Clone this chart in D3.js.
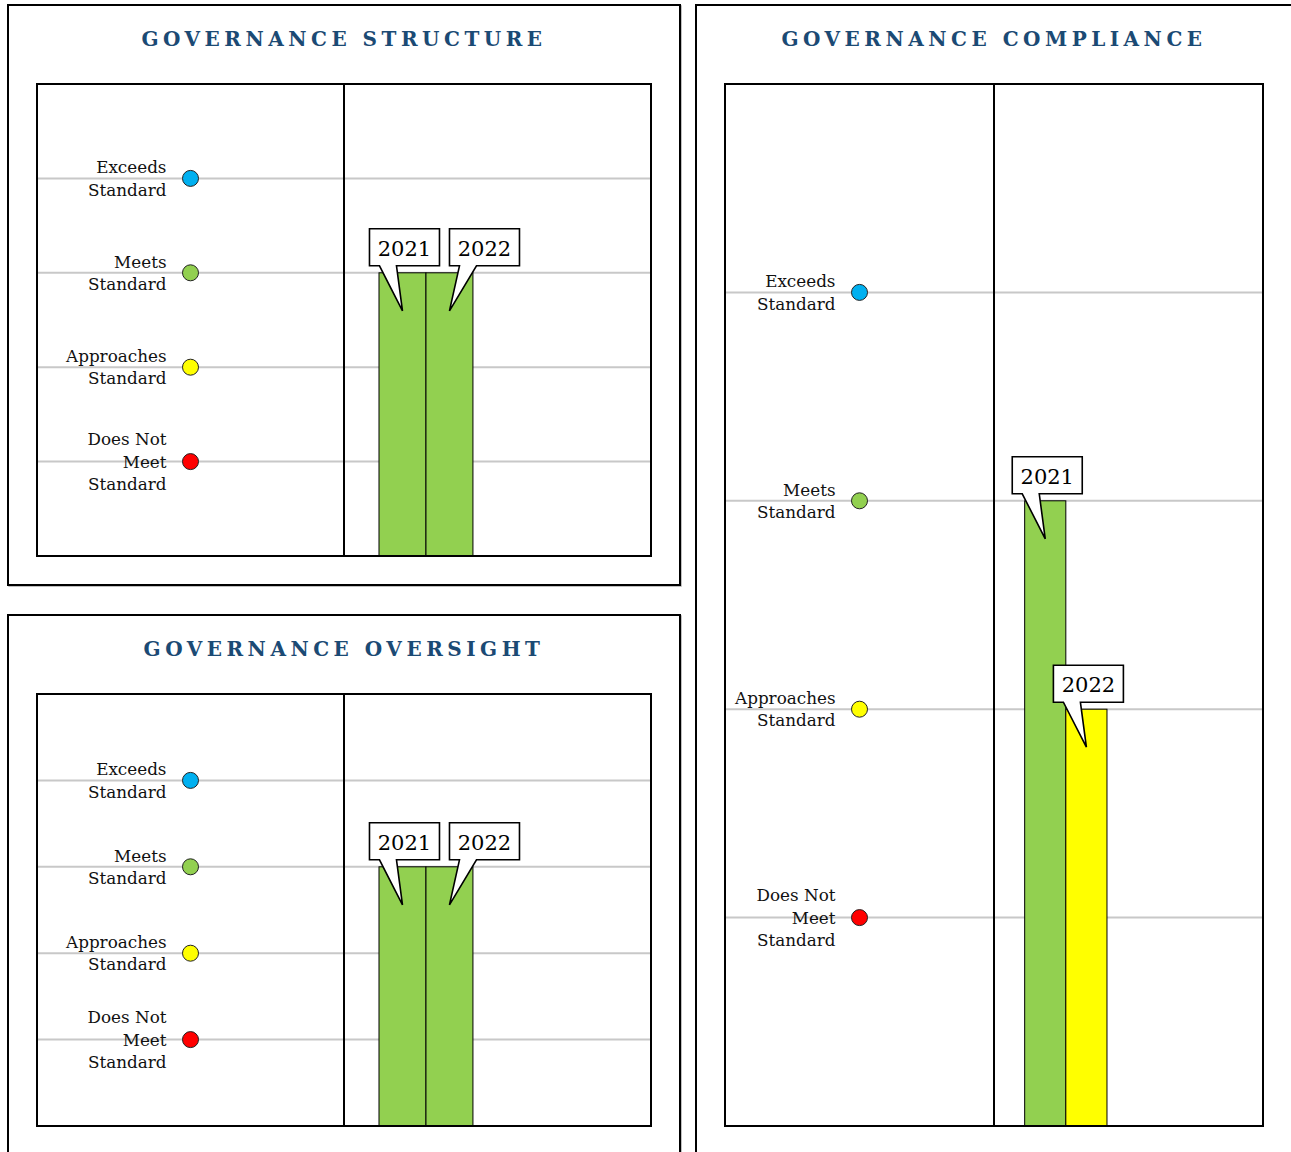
<!DOCTYPE html>
<html>
<head>
<meta charset="utf-8">
<script src="https://cdn.jsdelivr.net/npm/d3@7.9.0/dist/d3.min.js"></script>
<style>
  body { margin: 0; background: #fff; }
</style>
</head>
<body>
<div id="chart"></div>
<script>
// rating scale, bottom to top
const levelNames = ["Does Not Meet Standard", "Approaches Standard", "Meets Standard", "Exceeds Standard"];
const levelLabels = [["Does Not", "Meet", "Standard"], ["Approaches", "Standard"], ["Meets", "Standard"], ["Exceeds", "Standard"]];
const levelValues = [1, 2, 3, 4];
const levelColors = ["#ff0000", "#ffff00", "#92d050", "#00b0f0"];

const years = ["2021", "2022"];
const structureScores = [3, 3];
const oversightScores = [3, 3];
const complianceScores = [3, 2];

const panels = [
  { title: "GOVERNANCE STRUCTURE", scores: structureScores, box: [8, 5, 672, 580], plot: [37, 84, 651, 556] },
  { title: "GOVERNANCE OVERSIGHT", scores: oversightScores, box: [8, 615, 672, 600], plot: [37, 694, 651, 1126] },
  { title: "GOVERNANCE COMPLIANCE", scores: complianceScores, box: [696, 5, 600, 1200], plot: [725, 84, 1263, 1126] }
];

// check which serif face is really there
function hasFont(name) {
  const ctx = document.createElement('canvas').getContext('2d');
  ctx.font = '40px monospace';
  const base = ctx.measureText('Standard Approaches 2021').width;
  ctx.font = `40px "${name}", monospace`;
  return ctx.measureText('Standard Approaches 2021').width !== base;
}
const useDejaVu = hasFont('DejaVu Serif');
const bodyFont = useDejaVu ? '"DejaVu Serif"' : '"Liberation Serif"';
const fs = useDejaVu ? 1 : 1.22;

const svg = d3.select('#chart')
  .append('svg')
  .attr('width', 1291)
  .attr('height', 1152)
  .style('display', 'block');

panels.forEach(drawPanel);

function drawPanel(p) {
  const [bx, by, bw, bh] = p.box;
  const [x0, y0, x1, y1] = p.plot;
  const g = svg.append('g');

  // outer frame with soft shadow
  g.append('rect')
    .attr('x', bx + 1).attr('y', by + 1).attr('width', bw).attr('height', bh)
    .attr('fill', 'none').attr('stroke', '#aaa').attr('stroke-width', 1.5);
  g.append('rect')
    .attr('x', bx).attr('y', by).attr('width', bw).attr('height', bh)
    .attr('fill', '#fff').attr('stroke', '#000').attr('stroke-width', 2);

  g.append('text')
    .attr('x', (x0 + x1) / 2)
    .attr('y', by + 41)
    .attr('text-anchor', 'middle')
    .attr('font-family', '"DejaVu Serif", serif')
    .attr('font-size', 20)
    .attr('font-weight', 'bold')
    .attr('letter-spacing', 4.5)
    .attr('fill', '#1b4a74')
    .text(p.title);

  const mid = (x0 + x1) / 2;
  const yScale = d3.scaleLinear().domain([0, 5]).range([y1, y0]);
  const rw = x1 - mid;
  const xScale = d3.scaleBand()
    .domain(years)
    .range([mid + rw * 0.114, mid + rw * 0.42]);
  const dotX = (x0 + mid) / 2;

  // gridlines
  g.append('g')
    .selectAll('line')
    .data(levelValues)
    .join('line')
    .attr('x1', x0).attr('x2', x1)
    .attr('y1', d => yScale(d)).attr('y2', d => yScale(d))
    .attr('stroke', '#c8c8c8')
    .attr('stroke-width', 2);

  // level labels
  const lab = g.append('g')
    .selectAll('text')
    .data(levelValues)
    .join('text')
    .attr('text-anchor', 'end')
    .attr('font-family', bodyFont)
    .attr('font-size', 16.8 * fs)
    .attr('fill', '#111');
  lab.each(function (d, i) {
    const lines = levelLabels[i];
    const t = d3.select(this);
    lines.forEach((s, k) => {
      t.append('tspan')
        .attr('x', dotX - 24)
        .attr('y', yScale(d) + (k - (lines.length - 1) / 2) * 22.3 + 6)
        .text(s);
    });
  });

  // level dots
  g.append('g')
    .selectAll('circle')
    .data(levelValues)
    .join('circle')
    .attr('cx', dotX)
    .attr('cy', d => yScale(d))
    .attr('r', 8)
    .attr('fill', (d, i) => levelColors[i])
    .attr('stroke', '#222')
    .attr('stroke-width', 1);

  // bars
  g.append('g')
    .selectAll('rect')
    .data(p.scores)
    .join('rect')
    .attr('x', (d, i) => xScale(years[i]))
    .attr('y', d => yScale(d))
    .attr('width', xScale.bandwidth())
    .attr('height', d => yScale(0) - yScale(d))
    .attr('fill', d => levelColors[d - 1])
    .attr('stroke', '#000')
    .attr('stroke-width', 1);

  // plot frame + divider
  g.append('rect')
    .attr('x', x0).attr('y', y0).attr('width', x1 - x0).attr('height', y1 - y0)
    .attr('fill', 'none').attr('stroke', '#000').attr('stroke-width', 2);
  g.append('line')
    .attr('x1', mid).attr('x2', mid).attr('y1', y0).attr('y2', y1)
    .attr('stroke', '#000').attr('stroke-width', 2);

  // callouts
  const boxW = 70, boxH = 37;
  let prev = null;
  p.scores.forEach((d, i) => {
    const tipX = xScale(years[i]) + xScale.bandwidth() / 2;
    const top = yScale(d);
    const tipY = top + 38;
    const bottom = top - 7;
    let left = tipX - 33;
    if (prev && left < prev.right + 10 && Math.abs(prev.bottom - bottom) < boxH) left = prev.right + 10;
    const right = left + boxW;
    const t = bottom - boxH;
    const path = d3.path();
    path.moveTo(left, t);
    path.lineTo(right, t);
    path.lineTo(right, bottom);
    path.lineTo(left + 27, bottom);
    path.lineTo(tipX, tipY);
    path.lineTo(left + 10, bottom);
    path.lineTo(left, bottom);
    path.closePath();
    g.append('path')
      .attr('d', path.toString())
      .attr('fill', '#fff')
      .attr('stroke', '#000')
      .attr('stroke-width', 1.6)
      .attr('stroke-linejoin', 'miter');
    g.append('text')
      .attr('x', left + boxW / 2)
      .attr('y', bottom - 10)
      .attr('text-anchor', 'middle')
      .attr('font-family', bodyFont)
      .attr('font-size', 21 * fs)
      .attr('fill', '#000')
      .text(years[i]);
    prev = { right, bottom };
  });
}
</script>
</body>
</html>
